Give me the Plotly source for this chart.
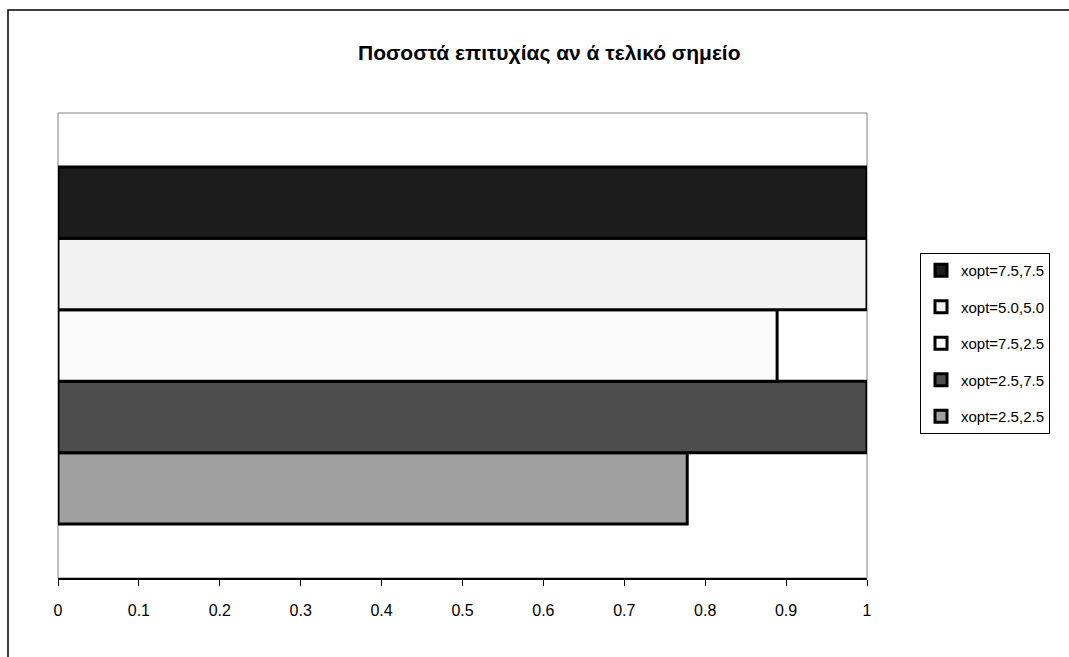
import plotly.graph_objects as go

# Success rate per final point (series drawn bottom-to-top)
series_names = ["xopt=2.5,2.5", "xopt=2.5,7.5", "xopt=7.5,2.5", "xopt=5.0,5.0", "xopt=7.5,7.5"]
success_rate = [7 / 9, 1.0, 8 / 9, 1.0, 1.0]
fill_colors = ["#a0a0a0", "#4d4d4d", "#fbfbfb", "#f2f2f2", "#1c1c1c"]

x_ticks = [0, 0.1, 0.2, 0.3, 0.4, 0.5, 0.6, 0.7, 0.8, 0.9, 1]
x_tick_text = ["0", "0.1", "0.2", "0.3", "0.4", "0.5", "0.6", "0.7", "0.8", "0.9", "1"]

title_text = "Ποσοστά επιτυχίας αν ά τελικό σημείο"

W, H = 1069, 657
L, R, T, B = 58, 202, 113, 79
pw, ph = W - L - R, H - T - B
FONT = "Arial, Liberation Sans, sans-serif"


def px_x(p):
    return (p - L) / pw


def px_y(p):
    return (H - B - p) / ph


fig = go.Figure()
n = len(series_names)
for i, (name, val, col) in enumerate(zip(series_names, success_rate, fill_colors)):
    fig.add_trace(go.Bar(
        x=[val], y=[0], name=name, orientation="h",
        marker=dict(color=col, line=dict(color="#000000", width=3)),
        legendgroup=name, legendrank=n - i, hoverinfo="x+name",
    ))

fig.update_layout(
    width=W, height=H,
    margin=dict(l=L, r=R, t=T, b=B),
    paper_bgcolor="white", plot_bgcolor="white",
    barmode="group", bargap=0.232, bargroupgap=0,
    font=dict(family=FONT, size=15, color="black"),
    showlegend=True,
    legend=dict(
        x=px_x(920), y=px_y(253), xanchor="left", yanchor="top",
        traceorder="grouped", tracegroupgap=14,
        bordercolor="black", borderwidth=1, bgcolor="white",
        font=dict(family=FONT, size=15, color="black"),
        itemwidth=30,
    ),
    xaxis=dict(
        range=[0, 1], tickvals=x_ticks, ticktext=x_tick_text,
        showgrid=False, zeroline=False,
        showline=True, linecolor="black", linewidth=1.5,
        ticks="outside", ticklen=6, tickwidth=1, tickcolor="black",
        ticklabelstandoff=11,
        tickfont=dict(family=FONT, size=16, color="black"),
    ),
    yaxis=dict(
        range=[-0.5, 0.5], showticklabels=False, showgrid=False,
        zeroline=False, showline=False, ticks="",
    ),
    shapes=[
        # plot-area frame
        dict(type="rect", xref="paper", yref="paper", x0=0, x1=1, y0=0, y1=1,
             line=dict(color="#808080", width=1), layer="below"),
        # outer chart frame
        dict(type="rect", xref="paper", yref="paper",
             x0=px_x(8), x1=px_x(1080), y0=px_y(670), y1=px_y(10),
             line=dict(color="black", width=1.5), fillcolor="rgba(0,0,0,0)"),
    ],
    annotations=[
        dict(text="<b>" + title_text + "</b>", xref="paper", yref="paper",
             x=px_x(549), y=px_y(53), xanchor="center", yanchor="middle",
             showarrow=False,
             font=dict(family=FONT, size=21, color="black")),
    ],
)

fig.write_html("out.html")
